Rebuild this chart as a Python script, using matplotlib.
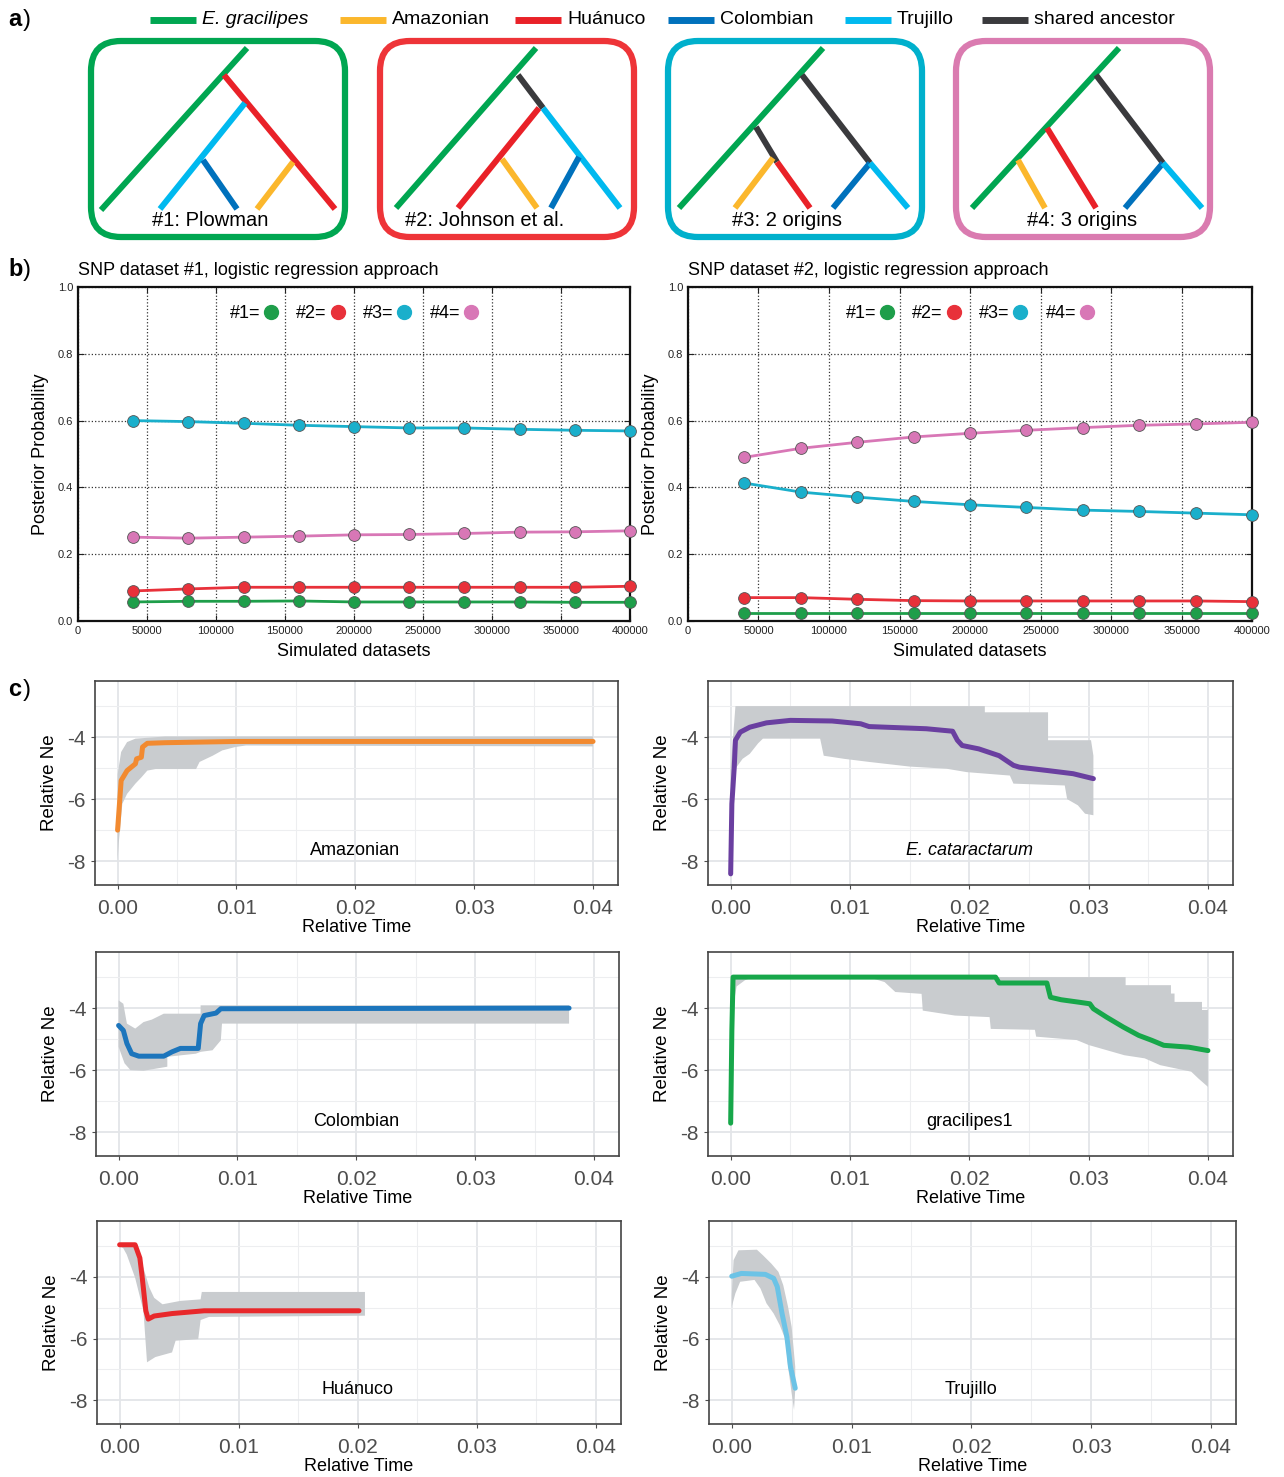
import numpy as np
import matplotlib
matplotlib.use("Agg")
import matplotlib.pyplot as plt
from matplotlib.patches import FancyBboxPatch
from matplotlib.lines import Line2D

plt.rcParams['font.family'] = ['Liberation Sans', 'DejaVu Sans']

W, H = 1284, 1477

# ---- panel a: lineage colours and tree sketches ----
lineages = ['E. gracilipes', 'Amazonian', 'Huánuco', 'Colombian', 'Trujillo', 'shared ancestor']
lin_colors = ['#00A651', '#FBB72C', '#E92128', '#0071BC', '#00B9EF', '#3A3A3D']
tree_names = ['#1: Plowman', '#2: Johnson et al.', '#3: 2 origins', '#4: 3 origins']
box_colors = ['#00A651', '#EE3438', '#00B0CC', '#DA7BB0']

# edges: (lineage index, x0, y0, x1, y1) in box-local pixels
tree1 = [(0, 159, 48, 13, 210), (2, 136, 75, 247, 209), (4, 157, 103, 72, 209),
         (3, 115, 160, 149, 209), (1, 205, 162, 169, 209)]
tree2 = [(0, 159, 48, 19, 208), (5, 141, 75, 166, 108), (2, 162, 108, 81, 208),
         (4, 166, 108, 243, 208), (1, 125, 159, 160, 208), (3, 202, 157, 174, 208)]
tree3 = [(0, 158, 48, 14, 208), (5, 137, 75, 205, 163), (5, 91, 127, 112, 162),
         (2, 112, 162, 145, 208), (1, 108, 158, 70, 208), (3, 205, 163, 168, 208),
         (4, 205, 163, 243, 208)]
tree4 = [(0, 166, 48, 19, 208), (5, 143, 75, 210, 163), (2, 94, 128, 143, 208),
         (1, 65, 160, 92, 208), (3, 210, 163, 172, 208), (4, 210, 163, 249, 208)]
trees = [tree1, tree2, tree3, tree4]
box_left = [88, 377, 665, 953]
label_x = [122, 108, 122, 129]

# ---- panel b: posterior probabilities ----
sim_sets = [40000, 80000, 120000, 160000, 200000, 240000, 280000, 320000, 360000, 400000]
b_colors = ['#1E9E4A', '#E8313A', '#1AAFCB', '#D877B6']
snp1_m1 = [0.057, 0.059, 0.059, 0.060, 0.057, 0.057, 0.057, 0.057, 0.056, 0.056]
snp1_m2 = [0.090, 0.096, 0.101, 0.101, 0.101, 0.101, 0.101, 0.101, 0.101, 0.104]
snp1_m3 = [0.600, 0.597, 0.592, 0.586, 0.582, 0.578, 0.578, 0.574, 0.571, 0.569]
snp1_m4 = [0.251, 0.248, 0.251, 0.254, 0.258, 0.259, 0.262, 0.266, 0.267, 0.270]
snp2_m1 = [0.025, 0.025, 0.025, 0.025, 0.025, 0.025, 0.025, 0.025, 0.025, 0.025]
snp2_m2 = [0.070, 0.070, 0.065, 0.061, 0.060, 0.060, 0.060, 0.060, 0.060, 0.058]
snp2_m3 = [0.413, 0.386, 0.371, 0.358, 0.348, 0.340, 0.332, 0.328, 0.323, 0.318]
snp2_m4 = [0.490, 0.517, 0.535, 0.551, 0.562, 0.571, 0.579, 0.586, 0.590, 0.595]

# ---- panel c: skyline plots ----
amaz_t = [0, 0.0003, 0.0008, 0.0015, 0.0016, 0.002, 0.0021, 0.0025, 0.004, 0.01, 0.04]
amaz_ne = [-7.0, -5.4, -5.08, -4.86, -4.7, -4.65, -4.32, -4.2, -4.18, -4.14, -4.14]
amaz_up_t = [0, 0.0003, 0.0008, 0.0015, 0.004, 0.04]
amaz_up = [-5.2, -4.48, -4.16, -4.05, -3.98, -3.98]
amaz_lo_t = [0, 0.0001, 0.0004, 0.0008, 0.0015, 0.002, 0.0025, 0.0032, 0.0066, 0.0069,
             0.008, 0.0088, 0.0099, 0.0108, 0.04]
amaz_lo = [-8.0, -7.4, -6.15, -5.83, -5.5, -5.3, -5.08, -5.03, -5.03, -4.8,
           -4.6, -4.43, -4.32, -4.27, -4.3]

cata_t = [0, 0.0001, 0.0003, 0.0004, 0.0008, 0.0016, 0.003, 0.005, 0.0085, 0.0109, 0.0116,
          0.0164, 0.0186, 0.019, 0.0194, 0.0208, 0.0225, 0.0237, 0.0242, 0.0266, 0.0287, 0.0304]
cata_ne = [-8.41, -6.15, -4.97, -4.1, -3.84, -3.68, -3.54, -3.46, -3.48, -3.57, -3.66,
           -3.73, -3.81, -4.1, -4.27, -4.38, -4.6, -4.91, -4.97, -5.08, -5.18, -5.34]
cata_up_t = [0, 0.0002, 0.0004, 0.0213, 0.0213, 0.0266, 0.0266, 0.0302, 0.0304]
cata_up = [-5.0, -4.0, -3.0, -3.0, -3.2, -3.2, -4.1, -4.1, -4.6]
cata_lo_t = [0, 0.0003, 0.001, 0.0016, 0.0023, 0.0027, 0.0075, 0.0078, 0.0095, 0.0116, 0.015,
             0.0181, 0.0198, 0.0234, 0.0237, 0.028, 0.0282, 0.0291, 0.0297, 0.0304]
cata_lo = [-5.6, -5.07, -4.7, -4.54, -4.2, -4.05, -4.05, -4.6, -4.7, -4.8, -4.95,
           -5.02, -5.13, -5.24, -5.5, -5.56, -6.0, -6.2, -6.47, -6.52]

col_t = [0, 0.0004, 0.0007, 0.0011, 0.0017, 0.0038, 0.0045, 0.0052, 0.0067, 0.0069, 0.0072,
         0.0082, 0.0086, 0.0379]
col_ne = [-4.56, -4.72, -5.14, -5.47, -5.55, -5.55, -5.41, -5.3, -5.3, -4.5, -4.24,
          -4.16, -4.02, -4.0]
col_up_t = [0, 0.0004, 0.0007, 0.0014, 0.0021, 0.0028, 0.0038, 0.0069, 0.0069, 0.0379]
col_up = [-3.75, -3.86, -4.5, -4.66, -4.45, -4.37, -4.18, -4.18, -3.91, -3.91]
col_lo_t = [0, 0.0005, 0.001, 0.0021, 0.0041, 0.0041, 0.0065, 0.0069, 0.0079, 0.0086, 0.0087, 0.0379]
col_lo = [-5.25, -5.78, -6.0, -6.02, -5.89, -5.57, -5.47, -5.41, -5.36, -5.04, -4.5, -4.5]

grac_t = [0, 0.0001, 0.0002, 0.0222, 0.0225, 0.0265, 0.0268, 0.0277, 0.0292, 0.0301, 0.0304,
          0.0315, 0.0329, 0.0342, 0.0353, 0.0363, 0.0384, 0.04]
grac_ne = [-7.71, -4.72, -3.0, -3.0, -3.19, -3.19, -3.65, -3.73, -3.81, -3.86, -4.02,
           -4.29, -4.61, -4.88, -5.04, -5.2, -5.26, -5.37]
grac_up_t = [0.0002, 0.0331, 0.0331, 0.0369, 0.0369, 0.0372, 0.0372, 0.0395, 0.0395, 0.04]
grac_up = [-3.0, -3.0, -3.26, -3.26, -3.53, -3.53, -3.8, -3.8, -4.06, -4.06]
grac_lo_t = [0.0002, 0.0005, 0.0012, 0.0018, 0.0117, 0.0129, 0.0138, 0.016, 0.0161, 0.0188,
             0.0217, 0.0218, 0.0255, 0.0256, 0.029, 0.030, 0.033, 0.0347, 0.036, 0.0386,
             0.0392, 0.04]
grac_lo = [-3.97, -3.3, -3.1, -3.02, -3.02, -3.16, -3.48, -3.54, -4.08, -4.24,
           -4.29, -4.67, -4.7, -4.92, -5.03, -5.19, -5.52, -5.62, -5.84, -6.05,
           -6.27, -6.54]

huan_t = [0, 0.0013, 0.0017, 0.0019, 0.0022, 0.0024, 0.0029, 0.0044, 0.0071, 0.0201]
huan_ne = [-2.96, -2.96, -3.39, -4.03, -5.1, -5.37, -5.27, -5.19, -5.1, -5.1]
huan_up_t = [0, 0.0013, 0.002, 0.0025, 0.0029, 0.0036, 0.0051, 0.0068, 0.0069, 0.0206]
huan_up = [-2.96, -2.96, -3.71, -4.35, -4.68, -4.89, -4.78, -4.73, -4.49, -4.49]
huan_lo_t = [0, 0.0003, 0.0006, 0.0013, 0.002, 0.0023, 0.003, 0.0044, 0.0047, 0.0066, 0.0068,
             0.0075, 0.0206]
huan_lo = [-3.0, -3.07, -3.28, -4.03, -5.1, -6.77, -6.6, -6.45, -6.07, -6.02, -5.4, -5.3, -5.26]

truj_t = [0, 0.0008, 0.0028, 0.0035, 0.0038, 0.0042, 0.0046, 0.0049, 0.0053]
truj_ne = [-3.98, -3.89, -3.92, -4.05, -4.32, -5.19, -5.94, -6.91, -7.61]
truj_up_t = [0, 0.00015, 0.00056, 0.0021, 0.0026, 0.0033, 0.0039, 0.0043, 0.0047, 0.005,
             0.0053, 0.0053]
truj_up = [-4.6, -3.46, -3.14, -3.12, -3.3, -3.57, -3.84, -4.27, -4.97, -5.62, -6.91, -7.56]
truj_lo_t = [0, 0.0003, 0.0007, 0.0019, 0.0024, 0.0029, 0.0035, 0.004, 0.0045, 0.0047,
             0.005, 0.0052, 0.0053]
truj_lo = [-4.97, -4.54, -4.16, -4.1, -4.38, -4.86, -5.19, -5.56, -6.05, -6.91,
           -7.77, -8.31, -7.66]


def box(x0, y0, x1, y1):
    # pixel box -> figure fraction
    return [x0 / W, 1 - y1 / H, (x1 - x0) / W, (y1 - y0) / H]


fig = plt.figure(figsize=(W / 100, H / 100), dpi=100)

# panel letters
for lab, yy in [('a', 20), ('b', 270), ('c', 690)]:
    fig.text(8 / W, 1 - yy / H, lab, fontsize=17, fontweight='bold', va='center')
    fig.text(23 / W, 1 - yy / H, ')', fontsize=17, va='center')

# ================= panel a =================
axa = fig.add_axes(box(0, 0, W, 250))
axa.set_xlim(0, W)
axa.set_ylim(250, 0)
axa.axis('off')

leg_x = [150, 340, 515, 668, 845, 982]
for i, name in enumerate(lineages):
    axa.plot([leg_x[i], leg_x[i] + 46], [20, 20], color=lin_colors[i], lw=5, solid_capstyle='butt')
    axa.text(leg_x[i] + 52, 20, name, fontsize=14, va='center', ha='left',
             style='italic' if i == 0 else 'normal')

for k in range(4):
    x0 = box_left[k]
    axa.add_patch(FancyBboxPatch((x0 + 3, 41), 254, 196,
                                 boxstyle='round,pad=0,rounding_size=30',
                                 fc='none', ec=box_colors[k], lw=4.5))
    for (li, ax0, ay0, ax1, ay1) in trees[k]:
        axa.plot([x0 + ax0, x0 + ax1], [ay0, ay1], color=lin_colors[li], lw=4.3,
                 solid_capstyle='butt')
    axa.text(x0 + label_x[k], 220, tree_names[k], fontsize=14.5, ha='center', va='center')

# ================= panel b =================
def snp_panel(rect, title, series):
    ax = fig.add_axes(box(*rect))
    for vals, c in zip(series, b_colors):
        ax.plot(sim_sets, vals, color=c, lw=2, marker='o', ms=8.5, mfc=c,
                mec='#555555', mew=0.6, clip_on=False, zorder=3)
    ax.set_xlim(0, 400000)
    ax.set_ylim(0, 1.0)
    ax.set_xticks(range(0, 400001, 50000))
    ax.set_yticks(np.arange(0, 1.01, 0.2))
    ax.set_yticklabels(['%.1f' % v for v in np.arange(0, 1.01, 0.2)])
    ax.tick_params(labelsize=8, colors='#222222', direction='in', length=4, top=True, right=True)
    ax.grid(True, ls=':', color='#333333', lw=0.9)
    for s in ax.spines.values():
        s.set_linewidth(1.6)
        s.set_color('#111111')
    ax.set_ylabel('Posterior Probability', fontsize=13, labelpad=6)
    ax.set_xlabel('Simulated datasets', fontsize=13, labelpad=5)
    ax.text(0.0, 1.025, title, transform=ax.transAxes, fontsize=13, ha='left', va='bottom')
    handles = [Line2D([], [], ls='none', marker='o', ms=10, mfc=c, mec=c) for c in b_colors]
    ax.legend(handles, ['#1=', '#2=', '#3=', '#4='], loc='upper center',
              bbox_to_anchor=(0.5, 0.995), ncol=4, markerfirst=False, frameon=False,
              fontsize=13, handlelength=0.8, handletextpad=0.2, columnspacing=1.0)
    return ax


snp_panel((78, 287, 630, 621), 'SNP dataset #1, logistic regression approach',
          [snp1_m1, snp1_m2, snp1_m3, snp1_m4])
snp_panel((688, 287, 1252, 621), 'SNP dataset #2, logistic regression approach',
          [snp2_m1, snp2_m2, snp2_m3, snp2_m4])

# ================= panel c =================
def sky_panel(rect, t, ne, up_t, up, lo_t, lo, color, name, italic=False):
    ax = fig.add_axes(box(*rect))
    px = np.concatenate([up_t, lo_t[::-1]])
    py = np.concatenate([up, lo[::-1]])
    ax.fill(px, py, color='#C9CCCF', lw=0, zorder=1)
    ax.plot(t, ne, color=color, lw=3.6, zorder=2, solid_capstyle='round')
    ax.set_xlim(-0.0019, 0.0421)
    ax.set_ylim(-8.77, -2.19)
    ax.set_xticks([0, 0.01, 0.02, 0.03, 0.04])
    ax.set_xticklabels(['0.00', '0.01', '0.02', '0.03', '0.04'])
    ax.set_yticks([-8, -6, -4])
    ax.set_yticklabels(['-8', '-6', '-4'])
    ax.set_xticks([0.005, 0.015, 0.025, 0.035], minor=True)
    ax.set_yticks([-7, -5, -3], minor=True)
    ax.grid(True, which='major', color='#E3E5E8', lw=1.3, zorder=0)
    ax.grid(True, which='minor', color='#EDEEF0', lw=0.8, zorder=0)
    ax.set_axisbelow(True)
    ax.tick_params(which='major', labelsize=15, colors='#4D4D4D', length=3, width=0.8)
    ax.tick_params(axis='x', which='major', pad=7)
    ax.tick_params(which='minor', length=0)
    for s in ax.spines.values():
        s.set_linewidth(1.2)
        s.set_color('#444444')
    ax.set_ylabel('Relative Ne', fontsize=13.5, labelpad=7)
    ax.set_xlabel('Relative Time', fontsize=13, labelpad=1)
    ax.text(0.02, -7.65, name, fontsize=13, ha='center', va='center',
            style='italic' if italic else 'normal')
    return ax


sky_panel((95, 681, 618, 885), amaz_t, amaz_ne, amaz_up_t, amaz_up, amaz_lo_t, amaz_lo,
          '#F28A30', 'Amazonian')
sky_panel((708, 681, 1233, 885), cata_t, cata_ne, cata_up_t, cata_up, cata_lo_t, cata_lo,
          '#6A3FA0', 'E. cataractarum', italic=True)
sky_panel((96, 952, 619, 1156), col_t, col_ne, col_up_t, col_up, col_lo_t, col_lo,
          '#1C75BC', 'Colombian')
sky_panel((708, 952, 1233, 1156), grac_t, grac_ne, grac_up_t, grac_up, grac_lo_t, grac_lo,
          '#17A74A', 'gracilipes1')
sky_panel((97, 1221, 621, 1424), huan_t, huan_ne, huan_up_t, huan_up, huan_lo_t, huan_lo,
          '#E8282B', 'Huánuco')
sky_panel((709, 1221, 1236, 1424), truj_t, truj_ne, truj_up_t, truj_up, truj_lo_t, truj_lo,
          '#6CC3E6', 'Trujillo')

fig.savefig('out.png', dpi=100)
